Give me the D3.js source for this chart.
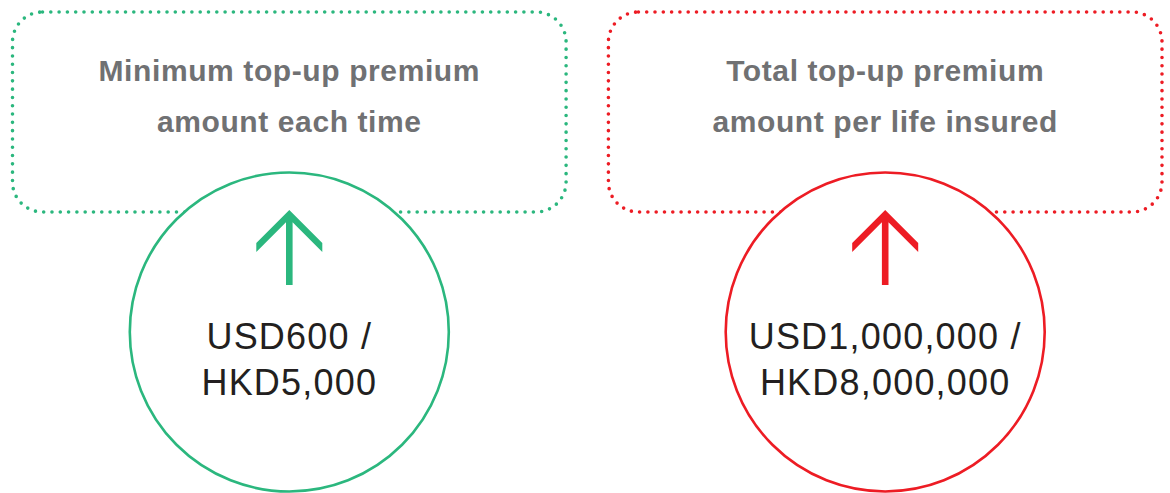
<!DOCTYPE html>
<html>
<head>
<meta charset="utf-8">
<script src="https://cdn.jsdelivr.net/npm/d3@7"></script>
<style>
  body { margin: 0; background: #fff; }
</style>
</head>
<body>
<div id="chart"></div>
<script>
// panels, left to right
var keys = ["min", "total"];
var titles = [
  ["Minimum top-up premium", "amount each time"],
  ["Total top-up premium", "amount per life insured"]
];
var amounts = [
  ["USD600 /", "HKD5,000"],
  ["USD1,000,000 /", "HKD8,000,000"]
];
var colors = ["#2bb77e", "#ed1c24"];

var width = 1170, height = 493;

var svg = d3.select("#chart")
  .append("svg")
    .attr("width", width)
    .attr("height", height);

// one band per panel
var x = d3.scaleBand()
  .domain(keys)
  .range([12.5, 1162])
  .paddingInner(0.071);

// vertical layout
var y = d3.scaleLinear().domain([0, 1]).range([12, 212]);
var r = 159.5, cy = 332;

var panel = svg.selectAll(".panel")
  .data(keys)
  .enter()
  .append("g")
    .attr("class", "panel");

// dotted rounded box
panel.append("rect")
  .attr("x", function(d) { return x(d); })
  .attr("y", y(0))
  .attr("width", x.bandwidth())
  .attr("height", y(1) - y(0))
  .attr("rx", 30)
  .attr("fill", "none")
  .attr("stroke", function(d, i) { return colors[i]; })
  .attr("stroke-width", 3.6)
  .attr("stroke-linecap", "round")
  .attr("stroke-dasharray", "0 8.3");

// title lines
panel.append("text")
  .attr("text-anchor", "middle")
  .attr("font-family", "Liberation Sans, Arial, sans-serif")
  .attr("font-weight", "bold")
  .attr("font-size", 30)
  .attr("letter-spacing", 0.6)
  .attr("fill", "#707173")
  .selectAll("tspan")
  .data(function(d, i) { return titles[i]; })
  .enter()
  .append("tspan")
    .attr("x", function() { return x(this.parentNode.__data__) + x.bandwidth() / 2; })
    .attr("y", function(d, j) { return 80.5 + j * 51; })
    .text(function(d) { return d; });

// circle covering the box edge
panel.append("circle")
  .attr("cx", function(d) { return x(d) + x.bandwidth() / 2; })
  .attr("cy", cy)
  .attr("r", r)
  .attr("fill", "#fff")
  .attr("stroke", function(d, i) { return colors[i]; })
  .attr("stroke-width", 2.6);

// up arrow
panel.append("path")
  .attr("fill", function(d, i) { return colors[i]; })
  .attr("d", function(d) {
    var c = x(d) + x.bandwidth() / 2, t = 210, w = 33, h = 9, s = 3.3;
    return "M" + c + "," + t +
      "L" + (c + w) + "," + (t + w) +
      "L" + (c + w) + "," + (t + w + h) +
      "L" + (c + s) + "," + (t + w + h - (w - s)) +
      "L" + (c + s) + ",285" +
      "L" + (c - s) + ",285" +
      "L" + (c - s) + "," + (t + w + h - (w - s)) +
      "L" + (c - w) + "," + (t + w + h) +
      "L" + (c - w) + "," + (t + w) + "Z";
  });

// amount lines
panel.append("text")
  .attr("text-anchor", "middle")
  .attr("font-family", "Liberation Sans, Arial, sans-serif")
  .attr("font-size", 36)
  .attr("letter-spacing", 1.2)
  .attr("fill", "#231f20")
  .selectAll("tspan")
  .data(function(d, i) { return amounts[i]; })
  .enter()
  .append("tspan")
    .attr("x", function() { return x(this.parentNode.__data__) + x.bandwidth() / 2; })
    .attr("y", function(d, j) { return 348.5 + j * 46.5; })
    .text(function(d) { return d; });
</script>
</body>
</html>
